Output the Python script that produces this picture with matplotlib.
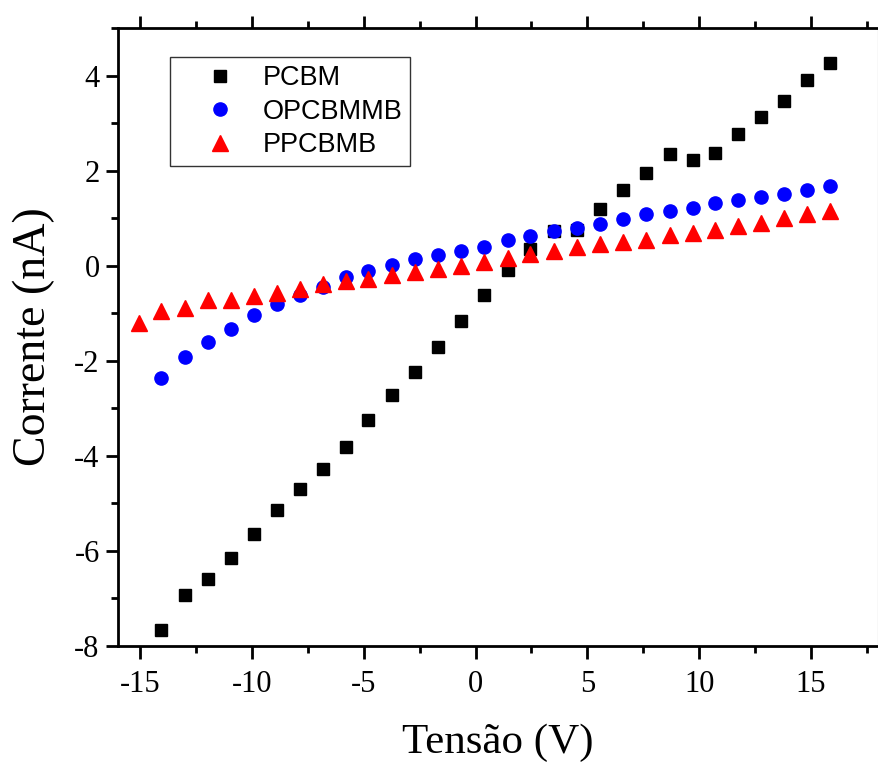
import numpy as np
import matplotlib
matplotlib.use("Agg")
import matplotlib.pyplot as plt
from matplotlib.ticker import MultipleLocator

# tensão (V) e corrente (nA)
v_pcbm = [-14.05, -13.0, -11.98, -10.95, -9.93, -8.9, -7.87, -6.84, -5.8, -4.8,
          -3.76, -2.73, -1.67, -0.64, 0.39, 1.43, 2.45, 3.5, 4.54, 5.56,
          6.6, 7.64, 8.7, 9.73, 10.72, 11.75, 12.78, 13.8, 14.83, 15.86]
i_pcbm = [-7.67, -6.92, -6.60, -6.15, -5.64, -5.14, -4.70, -4.28, -3.82, -3.25,
          -2.71, -2.23, -1.71, -1.16, -0.61, -0.10, 0.35, 0.72, 0.75, 1.19,
          1.59, 1.96, 2.35, 2.22, 2.37, 2.77, 3.12, 3.47, 3.91, 4.26]

v_opcbmmb = v_pcbm
i_opcbmmb = [-2.37, -1.92, -1.61, -1.34, -1.04, -0.81, -0.62, -0.44, -0.24, -0.11,
             0.01, 0.13, 0.22, 0.31, 0.40, 0.53, 0.62, 0.72, 0.79, 0.88,
             0.98, 1.08, 1.14, 1.22, 1.31, 1.38, 1.45, 1.51, 1.59, 1.68]

v_ppcbmb = [-15.04] + v_pcbm
i_ppcbmb = [-1.21, -0.95, -0.88, -0.72, -0.73, -0.64, -0.58, -0.49, -0.39, -0.32,
            -0.27, -0.20, -0.13, -0.08, 0.0, 0.08, 0.16, 0.25, 0.31, 0.39,
            0.45, 0.50, 0.55, 0.64, 0.69, 0.75, 0.84, 0.90, 1.01, 1.09, 1.15]

serif = "Liberation Serif"
sans = "Liberation Sans"
plt.rcParams["axes.unicode_minus"] = False

fig = plt.figure(figsize=(8.79, 7.65), dpi=100)
ax = fig.add_axes([0.134, 0.1556, 0.865, 0.8078])

ax.plot(v_pcbm, i_pcbm, "s", color="black", ms=9, ls="none", label="PCBM")
ax.plot(v_opcbmmb, i_opcbmmb, "o", color="blue", ms=9.5, ls="none", label="OPCBMMB")
ax.plot(v_ppcbmb, i_ppcbmb, "^", color="red", ms=11, ls="none", label="PPCBMB")

ax.set_xlim(-16, 18)
ax.set_ylim(-8, 5)
ax.xaxis.set_major_locator(MultipleLocator(5))
ax.xaxis.set_minor_locator(MultipleLocator(2.5))
ax.yaxis.set_major_locator(MultipleLocator(2))
ax.yaxis.set_minor_locator(MultipleLocator(1))

for side in ["left", "bottom", "top"]:
    ax.spines[side].set_linewidth(2)
ax.spines["right"].set_linewidth(0.8)
ax.spines["right"].set_color("#888888")

ax.tick_params(which="both", direction="out", top=True, right=True, width=2)
ax.tick_params(which="major", length=9)
ax.tick_params(which="minor", length=5)
ax.tick_params(axis="y", which="both", right=False)
ax.tick_params(axis="x", pad=8)
ax.tick_params(axis="y", pad=4)
for lab in ax.get_xticklabels() + ax.get_yticklabels():
    lab.set_fontfamily(serif)
    lab.set_fontsize(22)

ax.set_xlabel("Tensão (V)", fontfamily=serif, fontsize=31, labelpad=18)
ax.set_ylabel("Corrente (nA)", fontfamily=serif, fontsize=33, labelpad=14)

leg = ax.legend(loc="upper left", bbox_to_anchor=(0.069, 0.953), borderaxespad=0,
                prop={"family": sans, "size": 19.5}, frameon=True, fancybox=False,
                edgecolor="black", handletextpad=0.0, labelspacing=0.28,
                borderpad=0.3, handlelength=3.1)
leg.get_frame().set_linewidth(1)

fig.savefig("out.png", dpi=100)
